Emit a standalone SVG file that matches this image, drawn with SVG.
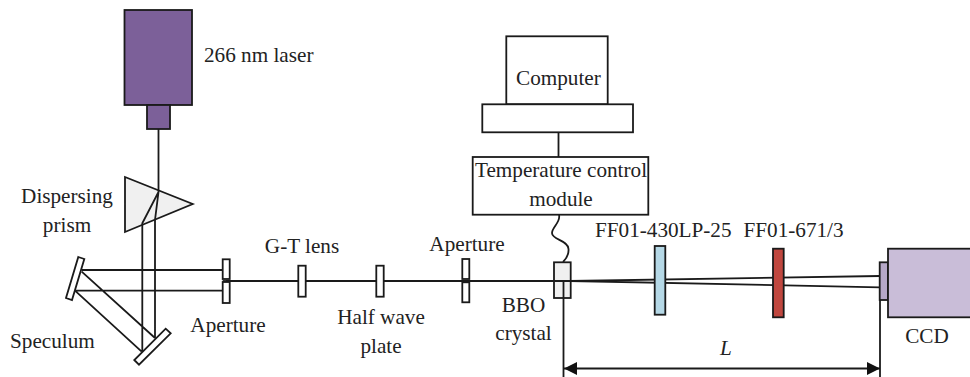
<svg xmlns="http://www.w3.org/2000/svg" width="970" height="377" viewBox="0 0 970 377">
<style>
text{font-family:"Liberation Serif","Times New Roman",serif;font-size:21.2px;fill:#222}
.m{text-anchor:middle}
.s{fill:none;stroke:#1a1a1a;stroke-width:1.800}
.w{fill:#fff;stroke:#1a1a1a;stroke-width:1.800}
.g{fill:#f0f0f0;stroke:#1a1a1a;stroke-width:1.800}
.p{fill:#7c6099;stroke:#1a1a1a;stroke-width:1.800}
</style>
<defs>
<marker id="a" markerWidth="13" markerHeight="13" refX="13" refY="6.500" orient="auto-start-reverse" markerUnits="userSpaceOnUse"><path d="M0 0L13 6.500L0 13z" fill="#111"/></marker>
</defs>
<rect width="970" height="377" fill="#fff"/>
<g id="laser"><rect class="p" x="124.500" y="10" width="67.500" height="95"/><rect class="p" x="147" y="105" width="23" height="24"/><text x="204" y="62">266 nm laser</text></g>
<g id="prism"><path class="g" d="M125 177L192.700 204L125 232Z"/><text class="m" x="67" y="203">Dispersing</text><text class="m" x="67" y="232">prism</text></g>
<g id="connectors">
<path class="s" d="M158.500 129V192L142.300 223.300V351.700M158.500 192L155 220V338M81.700 270H223M75 290.700H223M81.700 271.700L155 338M75 290.700L141.700 351.700"/>
<path class="s" d="M226 281H560M570 281L880 276M570 281L880 287.300"/>
<path class="s" d="M558.500 132V157M559 215C561 222 552 227 552 233C552 240 568 240 568.500 249C569 255 566 259 563 262"/>
<path class="s" d="M880 300V377"/>
<path class="s" d="M564 368.500H880" marker-start="url(#a)" marker-end="url(#a)"/>
</g>
<g id="speculum1"><path class="w" d="M78.300 257L84.300 259L72 300L66 298Z"/></g>
<g id="speculum2"><path class="w" d="M134.300 360L139 364.700L170.700 333.300L165.700 328.700Z"/><text x="10" y="348">Speculum</text></g>
<g id="aperture1"><rect class="w" x="222.700" y="259.300" width="7" height="19.700"/><rect class="w" x="222.700" y="282" width="7" height="21"/><path class="s" d="M222.700 281H230"/><text class="m" x="228" y="332">Aperture</text></g>
<g id="gt-lens"><rect class="w" x="298.300" y="265.700" width="7.400" height="31"/><text class="m" x="302" y="253">G-T lens</text></g>
<g id="half-wave"><rect class="w" x="376.300" y="265.700" width="7.400" height="31"/><text class="m" x="381" y="324">Half wave</text><text class="m" x="381" y="353">plate</text></g>
<g id="aperture2"><rect class="w" x="462.300" y="259" width="7" height="20"/><rect class="w" x="462.300" y="282.300" width="7" height="20"/><path class="s" d="M462.300 281H469.300"/><text class="m" x="467" y="251">Aperture</text></g>
<g id="bbo"><rect class="g" x="554" y="262.300" width="16.700" height="35.700"/><path class="s" d="M554 281H570.700M563.500 281V377"/><text class="m" x="523.500" y="312">BBO</text><text class="m" x="523.500" y="340">crystal</text></g>
<g id="computer"><rect class="w" x="506.300" y="36.300" width="101.400" height="68"/><rect class="w" x="482.300" y="104.300" width="150.700" height="28"/><text x="516" y="85">Computer</text></g>
<g id="temp"><rect class="w" x="472.700" y="157" width="175.600" height="57.700"/><text class="m" x="561" y="177">Temperature control</text><text class="m" x="561" y="206">module</text></g>
<g id="ff430"><rect x="654.700" y="246" width="10.600" height="68.700" fill="#b5d8e6" stroke="#1a1a1a" stroke-width="1.800"/><text x="595" y="237">FF01-430LP-25</text></g>
<g id="ff671"><rect x="773" y="248.700" width="10.700" height="68.600" fill="#c0473f" stroke="#1a1a1a" stroke-width="1.800"/><text x="743.500" y="237">FF01-671/3</text></g>
<g id="ccd"><rect x="879.700" y="262.300" width="8.300" height="37.700" fill="#b6a8c8" stroke="#1a1a1a" stroke-width="1.800"/><rect x="888" y="248.700" width="84" height="68.600" fill="#c9bdd8" stroke="#1a1a1a" stroke-width="1.800"/><text class="m" x="927" y="343">CCD</text></g>
<text id="label-L" x="720" y="355" style="font-style:italic">L</text>
</svg>
